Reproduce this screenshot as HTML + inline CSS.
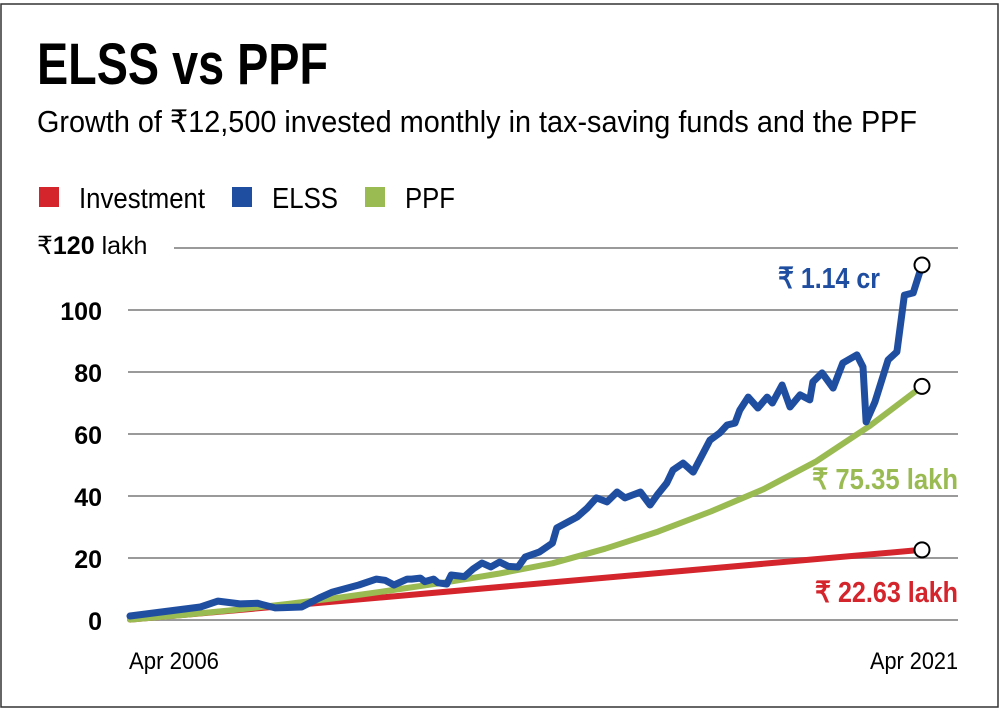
<!DOCTYPE html>
<html><head><meta charset="utf-8">
<style>
html,body{margin:0;padding:0;background:#fff;}
svg{display:block;}
text{font-family:"Liberation Sans Narrow","Liberation Sans",sans-serif;}
</style></head>
<body>
<svg id="chart" width="1000" height="710" viewBox="0 0 1000 710" xmlns="http://www.w3.org/2000/svg">
<rect x="1" y="4" width="997" height="703" fill="#fff" stroke="#333" stroke-width="1.5"/>
<text x="37" y="84" font-size="58" font-weight="bold" textLength="291" lengthAdjust="spacingAndGlyphs">ELSS vs PPF</text>
<text x="37" y="132" font-size="31" textLength="880" lengthAdjust="spacingAndGlyphs">Growth of  ₹12,500 invested monthly in tax-saving funds and the PPF</text>
<g>
<rect x="39" y="187" width="20" height="20" fill="#d4242c"/>
<text x="79" y="208" font-size="29" textLength="126" lengthAdjust="spacingAndGlyphs">Investment</text>
<rect x="232" y="187" width="20" height="20" fill="#1f4ea1"/>
<text x="272" y="208" font-size="29" textLength="66" lengthAdjust="spacingAndGlyphs">ELSS</text>
<rect x="365" y="187" width="20" height="20" fill="#9aba52"/>
<text x="405" y="208" font-size="29" textLength="50" lengthAdjust="spacingAndGlyphs">PPF</text>
</g>
<g id="grid"></g>
<g id="series"></g>
<text x="129" y="669" font-size="24" textLength="90" lengthAdjust="spacingAndGlyphs">Apr 2006</text>
<text x="958" y="669" font-size="24" text-anchor="end" textLength="88" lengthAdjust="spacingAndGlyphs">Apr 2021</text>
<text x="880" y="288" font-size="29" font-weight="bold" fill="#1f4ea1" text-anchor="end" textLength="102" lengthAdjust="spacingAndGlyphs">₹ 1.14 cr</text>
<text x="958" y="489" font-size="29" font-weight="bold" fill="#9aba52" text-anchor="end" textLength="146" lengthAdjust="spacingAndGlyphs">₹ 75.35 lakh</text>
<text x="958" y="602" font-size="29" font-weight="bold" fill="#d4242c" text-anchor="end" textLength="143" lengthAdjust="spacingAndGlyphs">₹ 22.63 lakh</text>
</svg>
<script>
const yTicks = [0, 20, 40, 60, 80, 100, 120];
const elssMonths = [0,16,20,25,29,30,33,35,39,43,46,52,56,58,60,63,64,66,67,69,70,72,73,76,78,80,82,84,86,88.2,89.8,93,96,97,101.6,103.9,106,108.4,110.7,112.5,116,118.2,119.8,122,123.4,125.7,128,131.8,134,135.7,137.5,138.6,140.5,142.7,144.8,146,148.2,150,152.3,154.5,155.2,157.3,159.8,162,165.2,166.6,167.3,169.3,172.3,174.3,176,178,180];
const elssValues = [1.3,4.2,6.1,5.2,5.4,5.0,3.9,4.0,4.2,7.1,9,11.3,13.2,12.8,11.3,13.2,13.2,13.5,12.4,13.2,12.0,11.6,14.5,14.0,16.5,18.4,17.1,18.7,17.3,17.1,20.3,21.9,24.8,29.7,33.2,36.1,39.4,38.1,41.3,39.4,41.3,37.1,40.3,44.2,48.4,50.6,47.7,58,60.3,62.9,63.5,67.7,71.9,68.4,71.9,70,75.8,68.7,72.6,71,76.8,79.7,74.8,82.9,85.5,81.6,63.9,70.3,83.9,86.5,104.8,105.5,114.5];
const ppfMonths = [0,12,24,36,48,60,72,84,96,108,120,132,144,156,168,180];
const ppfValues = [0.13,1.6,3.3,5.2,7.3,9.7,12.2,15,18.3,23,28.5,35,42.2,51.2,62.5,75.35];
const investMonths = [0,180];
const investValues = [0.125,22.63];
const endMarkerValues = [114.5,75.35,22.63];

const X0=130, X1=922, Y0=620, YPER=3.1;
function xScale(m){return X0+(X1-X0)*m/180;}
function yScale(v){return Y0-v*YPER;}
const NS='http://www.w3.org/2000/svg';
const grid=document.getElementById('grid');
const series=document.getElementById('series');

yTicks.forEach(t=>{
  const y=yScale(t);
  const ln=document.createElementNS(NS,'line');
  
  
  ln.setAttribute('x1',t===120?174:128);ln.setAttribute('x2',958);
  ln.setAttribute('y1',y);ln.setAttribute('y2',y);
  ln.setAttribute('stroke','#9a9a9a');ln.setAttribute('stroke-width','2');
  grid.appendChild(ln);
  const tx=document.createElementNS(NS,'text');
  
  
  tx.setAttribute('font-size','25');
  tx.setAttribute('font-family','"Liberation Sans",sans-serif');
  if(t===120){
    tx.setAttribute('x',37);tx.setAttribute('y',y+6);
    tx.innerHTML='₹<tspan font-weight="bold">120</tspan><tspan font-family="Liberation Sans Narrow, Liberation Sans, sans-serif"> lakh</tspan>';
  } else {
    tx.setAttribute('x',102);tx.setAttribute('y',y+10);
    tx.setAttribute('text-anchor','end');tx.setAttribute('font-weight','bold');
    tx.textContent=t;
  }
  grid.appendChild(tx);
});

function path(ms,vs,color,w,name){
  const p=document.createElementNS(NS,'polyline');
  
  
  p.setAttribute('points',ms.map((m,i)=>xScale(m).toFixed(1)+','+yScale(vs[i]).toFixed(1)).join(' '));
  p.setAttribute('fill','none');p.setAttribute('stroke',color);
  p.setAttribute('stroke-width',w);p.setAttribute('stroke-linejoin','round');p.setAttribute('stroke-linecap','round');
  series.appendChild(p);
}
path(investMonths,investValues,'#d4242c',6,'investment-line');
path(ppfMonths,ppfValues,'#9aba52',6,'ppf-line');
path(elssMonths,elssValues,'#1f4ea1',7,'elss-line');
endMarkerValues.forEach((v,i)=>{
  const c=document.createElementNS(NS,'circle');
  
  
  c.setAttribute('cx',xScale(180));c.setAttribute('cy',yScale(v));c.setAttribute('r',7.5);
  c.setAttribute('fill','#fff');c.setAttribute('stroke','#000');c.setAttribute('stroke-width','2');
  series.appendChild(c);
});
</script>
</body></html>
